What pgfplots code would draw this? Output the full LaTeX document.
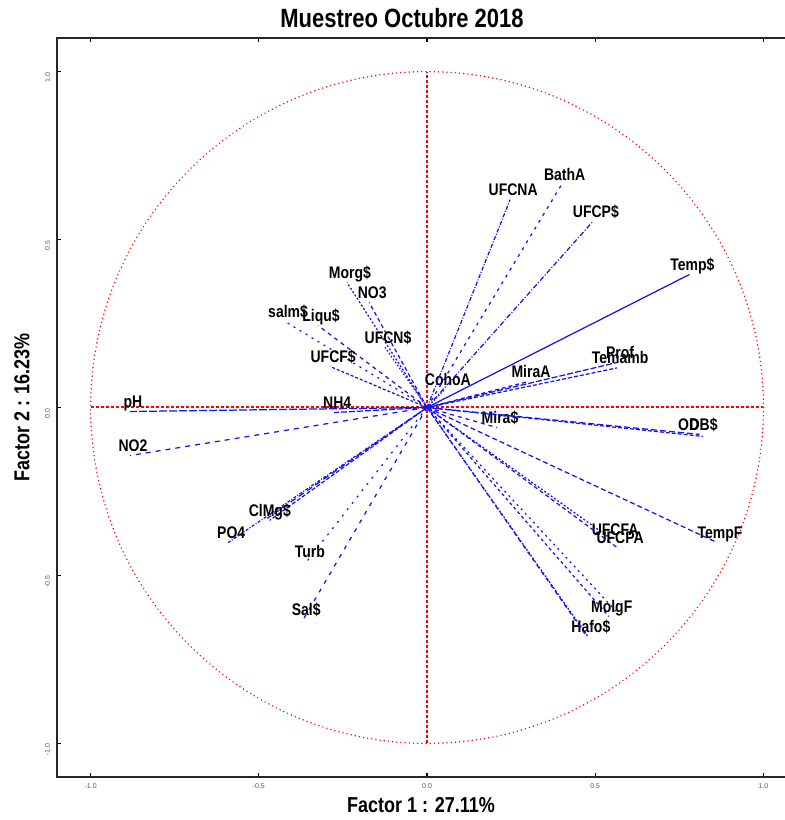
\documentclass[border=0pt]{standalone}
\usepackage{fontspec}
\setmainfont{Liberation Sans}
\usepackage{graphicx}
\usepackage{pgfplots}
\pgfplotsset{compat=1.18}
\definecolor{vblue}{RGB}{20,20,235}
\definecolor{vred}{RGB}{255,0,0}
\tikzset{lab/.style={font=\bfseries\fontsize{7}{8}\selectfont, anchor=base, inner sep=0pt, xshift=1.5pt, yshift=2pt, text=black}}
\newcommand{\vs}[1]{\scalebox{1}[1.2]{#1}}
\newcommand{\pv}[4]{\addplot[vblue, line width=0.62pt, #1] coordinates {(0,0) (#2,#3)} node[lab]{\vs{#4}};}
\newcommand{\pvo}[5]{\addplot[vblue, line width=0.62pt, #1] coordinates {(0,0) (#2,#3)} node[lab, #4]{\vs{#5}};}
\begin{document}
\begin{tikzpicture}
\useasboundingbox (-28.5pt,-21.5pt) rectangle (364pt,388.5pt);
\begin{axis}[name=ax, scale only axis, width=364pt, height=369.5pt,
  xmin=-1.1, xmax=1.064, ymin=-1.1, ymax=1.1,
  xtick={-1,-0.5,0,0.5,1}, ytick={-1,-0.5,0,0.5,1},
  xtick pos=both, ytick pos=left,
  tick align=inside, major tick length=2pt,
  tick style={black, line width=0.6pt},
  axis line style={draw=none},
  /pgf/number format/assume math mode=true,
  xticklabel style={font=\fontsize{3.5}{4}\selectfont, text=gray!70!black, /pgf/number format/fixed, /pgf/number format/fixed zerofill, /pgf/number format/precision=1},
  yticklabel style={font=\fontsize{3.5}{4}\selectfont, text=gray!70!black, rotate=90, anchor=south, xshift=-3pt, /pgf/number format/fixed, /pgf/number format/fixed zerofill, /pgf/number format/precision=1},
  xlabel={\vs{\bfseries Factor 1 : 27.11\%}},
  ylabel={\vs{\bfseries Factor 2 : 16.23\%}},
  xlabel style={at={(axis description cs:0.5,0)}, anchor=center, yshift=-14pt, font=\fontsize{9}{10}\selectfont},
  ylabel style={at={(axis description cs:0,0.5)}, anchor=center, yshift=17.5pt, font=\fontsize{9}{10}\selectfont},
  title={\vs{\bfseries Muestreo Octubre 2018}},
  title style={at={(axis description cs:0.5,1)}, anchor=center, yshift=4pt, xshift=-9.5pt, font=\fontsize{11}{12}\selectfont},
  clip=false,
]
% reference circle and axes
\draw[vred, line width=0.8pt, line cap=round, dash pattern=on 0pt off 2.1pt] (axis cs:0,0) ellipse [x radius=1, y radius=1];
\draw[vred, line width=0.75pt, dash pattern=on 1.5pt off 1pt] (axis cs:0,-1) -- (axis cs:0,1);
\draw[vred, line width=1pt, dash pattern=on 1.5pt off 1pt] (axis cs:-1,0.002) -- (axis cs:1,0.002);
% variables
\pv{dash pattern=on 4pt off 1pt}{-0.883}{-0.012}{pH}
\pv{dash pattern=on 2.5pt off 2.5pt}{-0.883}{-0.143}{NO2}
\pv{dash pattern=on 1.5pt off 0.8pt on 0.5pt off 0.8pt}{-0.591}{-0.402}{PO4}
\pvo{densely dashed}{-0.475}{-0.330}{anchor=base west, xshift=-11pt, yshift=-1pt}{Cl}
\pvo{dash pattern=on 2pt off 1pt}{-0.468}{-0.336}{anchor=base west, xshift=-5.2pt}{Mg\$}
\pv{dash pattern=on 1pt off 3pt}{-0.357}{-0.458}{Turb}
\pv{dash pattern=on 2pt off 3pt}{-0.368}{-0.631}{Sal\$}
\pv{dash pattern=on 3pt off 1pt}{-0.276}{-0.015}{NH4}
\pv{dash pattern=on 1pt off 1pt}{-0.238}{0.372}{Morg\$}
\pv{dash pattern=on 2pt off 1.5pt}{-0.172}{0.3125}{NO3}
\pv{dash pattern=on 1pt off 2.5pt}{-0.422}{0.256}{salm\$}
\pv{dash pattern=on 2pt off 2pt}{-0.324}{0.244}{Liqu\$}
\pv{dash pattern=on 1.5pt off 1pt}{-0.288}{0.122}{UFCF\$}
\pv{dash pattern=on 0.8pt off 1pt}{-0.125}{0.179}{UFCN\$}
\pv{densely dotted}{0.053}{0.054}{CohoA}
\pv{dash pattern=on 2pt off 1.5pt}{0.300}{0.077}{MiraA}
\pv{dash pattern=on 3pt off 1pt}{0.565}{0.134}{Prof}
\pv{dash pattern=on 2pt off 1pt}{0.565}{0.118}{Temamb}
\pv{dash pattern=on 2pt off 2pt}{0.208}{-0.060}{Mira\$}
\pvo{dash pattern=on 3pt off 1.5pt}{0.810}{-0.080}{anchor=base west, xshift=-12.5pt}{OD}
\pvo{dash pattern=on 2pt off 1pt}{0.820}{-0.086}{anchor=base west, xshift=-8.5pt, yshift=1pt}{DB\$}
\pv{solid}{0.780}{0.396}{Temp\$}
\pv{dash pattern=on 2pt off 0.8pt on 0.5pt off 0.8pt}{0.247}{0.619}{UFCNA}
\pv{dash pattern=on 1.5pt off 2.5pt}{0.400}{0.664}{BathA}
\pv{dash pattern=on 2.5pt off 1pt on 0.5pt off 1pt}{0.493}{0.554}{UFCP\$}
\pv{dash pattern=on 1pt off 1pt}{0.550}{-0.393}{UFCFA}
\pv{dash pattern=on 2pt off 1.5pt}{0.565}{-0.417}{UFCPA}
\pv{dash pattern=on 2.5pt off 1.5pt}{0.862}{-0.402}{TempF}
\pv{dash pattern=on 1.5pt off 1.5pt}{0.540}{-0.622}{MolgF}
\pv{dash pattern=on 1pt off 2pt}{0.565}{-0.610}{}
\pv{dash pattern=on 1pt off 0.8pt}{0.478}{-0.682}{Hafo\$}
\pv{dash pattern=on 2pt off 2pt}{0.470}{-0.675}{}
% frame (right side cropped in the reference)
\draw[black!85, line width=0.8pt] (rel axis cs:1,1) -- (rel axis cs:0,1) -- (rel axis cs:0,0) -- (rel axis cs:1,0);
\end{axis}
\end{tikzpicture}
\end{document}
